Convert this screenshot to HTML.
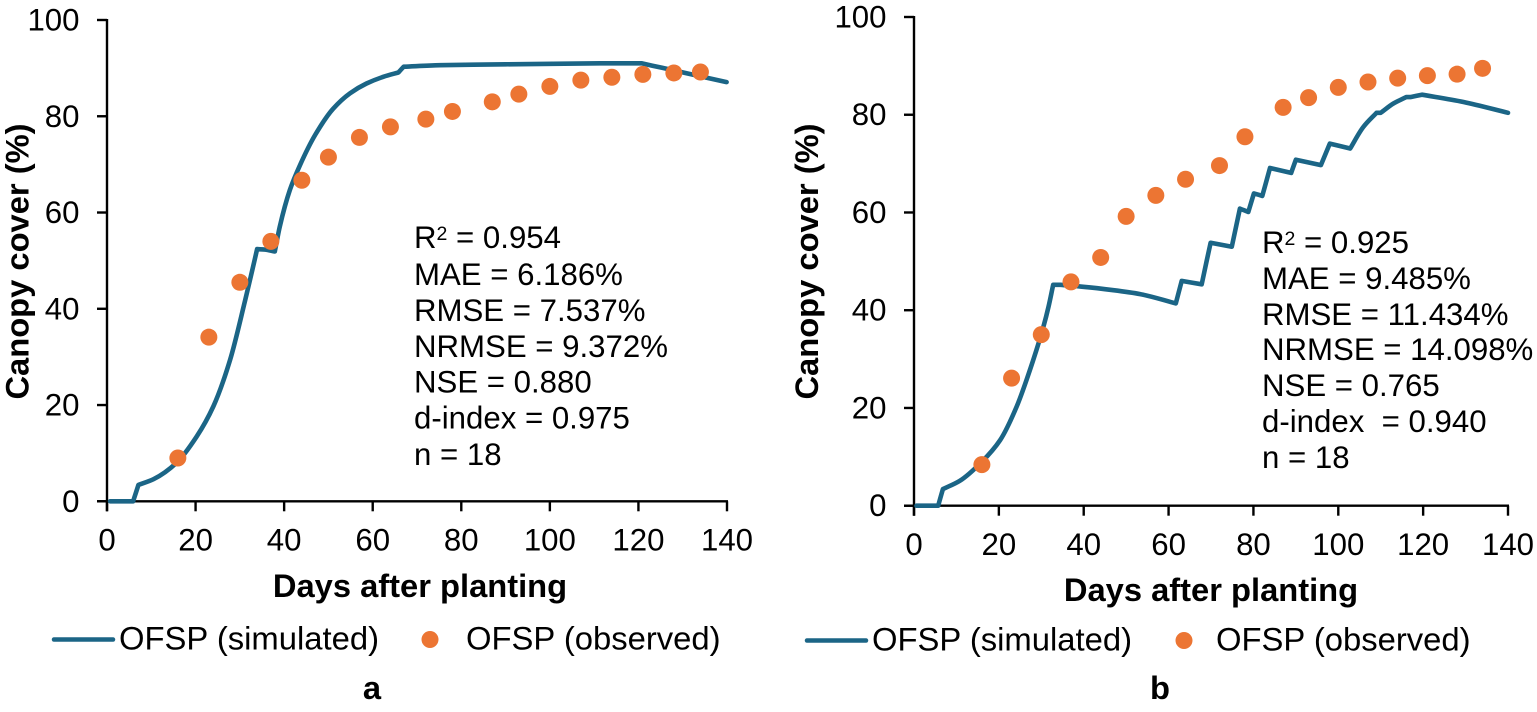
<!DOCTYPE html>
<html lang="en">
<head>
<meta charset="utf-8">
<title>Canopy cover charts</title>
<style>
html,body{margin:0;padding:0;background:#fff;width:1537px;height:712px;overflow:hidden}
svg{display:block}
text{font-family:"Liberation Sans",Arial,sans-serif;fill:#000}
.tick{font-size:31.2px}
.stat{font-size:31.2px}
.leg{font-size:32.8px}
.title{font-size:32.7px;font-weight:bold}
.sup{font-size:19.5px}
</style>
</head>
<body>
<svg id="figure" width="1537" height="712" viewBox="0 0 1537 712" xmlns="http://www.w3.org/2000/svg">
  <g id="panel-a"></g>
  <g id="panel-b"></g>

  <text class="title" x="420" y="597" text-anchor="middle">Days after planting</text>
  <text class="title" transform="translate(28.5,261.5) rotate(-90)" text-anchor="middle">Canopy cover (%)</text>
  <text class="title" x="1211" y="601" text-anchor="middle">Days after planting</text>
  <text class="title" transform="translate(818,261.5) rotate(-90)" text-anchor="middle">Canopy cover (%)</text>

  <g>
    <text class="stat" x="414" y="248">R<tspan class="sup" dy="-8">2</tspan><tspan dy="8"> = 0.954</tspan></text>
    <text class="stat" x="414" y="285">MAE = 6.186%</text>
    <text class="stat" x="414" y="321">RMSE = 7.537%</text>
    <text class="stat" x="414" y="357">NRMSE = 9.372%</text>
    <text class="stat" x="414" y="392.5">NSE = 0.880</text>
    <text class="stat" x="414" y="428.5">d-index = 0.975</text>
    <text class="stat" x="414" y="465">n = 18</text>
  </g>
  <g>
    <text class="stat" x="1262" y="253">R<tspan class="sup" dy="-8">2</tspan><tspan dy="8"> = 0.925</tspan></text>
    <text class="stat" x="1262" y="289">MAE = 9.485%</text>
    <text class="stat" x="1262" y="325">RMSE = 11.434%</text>
    <text class="stat" x="1262" y="360">NRMSE = 14.098%</text>
    <text class="stat" x="1262" y="396">NSE = 0.765</text>
    <text class="stat" x="1262" y="432">d-index&#160; = 0.940</text>
    <text class="stat" x="1262" y="468">n = 18</text>
  </g>

  <g>
    <line x1="54" x2="113" y1="639.5" y2="639.5" stroke="#1b6586" stroke-width="4.5" stroke-linecap="round"/>
    <text class="leg" x="119" y="649.5">OFSP (simulated)</text>
    <circle cx="430" cy="639.5" r="8.5" fill="#ec7533"/>
    <text class="leg" x="466" y="649.5">OFSP (observed)</text>
  </g>
  <g>
    <line x1="807" x2="866" y1="640.5" y2="640.5" stroke="#1b6586" stroke-width="4.5" stroke-linecap="round"/>
    <text class="leg" x="872" y="650.5">OFSP (simulated)</text>
    <circle cx="1184" cy="640.5" r="8.5" fill="#ec7533"/>
    <text class="leg" x="1216" y="650.5">OFSP (observed)</text>
  </g>

  <text class="title" x="372" y="699" text-anchor="middle">a</text>
  <text class="title" x="1160" y="699" text-anchor="middle">b</text>
</svg>
<script>
const xTicks = [0, 20, 40, 60, 80, 100, 120, 140];
const yTicks = [0, 20, 40, 60, 80, 100];

const obsDays = [16, 23, 30, 37, 44, 50, 57, 64, 72, 78, 87, 93, 100, 107, 114, 121, 128, 134];
const obsA = [9, 34.1, 45.5, 54, 66.7, 71.5, 75.6, 77.8, 79.4, 81, 83, 84.6, 86.2, 87.5, 88.1, 88.7, 89, 89.2];
const obsB = [8.4, 26.1, 35, 45.8, 50.8, 59.2, 63.5, 66.8, 69.6, 75.5, 81.5, 83.5, 85.6, 86.7, 87.5, 88, 88.3, 89.5];

const simDaysA = [0.7, 5.9, 7.1, 10.5, 15.7, 20.2, 24, 27.8, 31.2, 32.3, 33.9, 35.7, 37.9, 39, 41.3, 43.6, 47, 51.1, 54.9, 58.6, 62.4, 65.8, 67, 75.2, 90, 111.3, 120.7, 125.2, 132.5, 139.9];
const simA = [0, 0, 3.4, 4.6, 8, 13.4, 19.7, 29.4, 41.8, 46, 52.4, 52.3, 51.9, 57, 64.7, 69.9, 76.1, 81.6, 84.8, 86.8, 88.2, 89.1, 90.3, 90.6, 90.8, 91, 91, 90.1, 88.6, 87.1];

const simDaysB = [0.6, 5.7, 6.8, 10.8, 16, 20.3, 24.2, 28.1, 30.5, 31.7, 32.8, 34.5, 39.9, 47, 53.3, 61.7, 63.1, 67.8, 69.9, 74.9, 76.8, 78.8, 80.1, 82.1, 83.9, 88.9, 90, 95.9, 98, 102.8, 105.9, 109, 110, 113, 116, 117, 119.7, 129.5, 140];
const simB = [0, 0, 3.4, 5.1, 9, 13.4, 20.3, 29.8, 36.6, 40.7, 45.2, 45.2, 44.8, 44.1, 43.3, 41.4, 46, 45.3, 53.8, 53, 60.8, 60.1, 63.9, 63.4, 69.1, 68.1, 70.8, 69.7, 74.1, 73.1, 77.5, 80.4, 80.4, 82.3, 83.6, 83.6, 84.1, 82.6, 80.4];

const SVG_NS = 'http://www.w3.org/2000/svg';

// Smooth cubic path; abrupt slope changes are kept as sharp corners.
function cornerAwarePath(xs, ys) {
  const n = xs.length;
  const slopes = [];
  for (let i = 0; i < n - 1; i++) {
    slopes.push((ys[i + 1] - ys[i]) / (xs[i + 1] - xs[i]));
  }
  const inTan = [slopes[0]];
  const outTan = [slopes[0]];
  for (let i = 1; i < n - 1; i++) {
    const a = slopes[i - 1];
    const b = slopes[i];
    const ratio = Math.max(Math.abs(a), Math.abs(b)) / Math.max(1e-6, Math.min(Math.abs(a), Math.abs(b)));
    if (a * b <= 0 || ratio > 3.5) {
      inTan.push(a);
      outTan.push(b);
    } else {
      const ha = xs[i] - xs[i - 1];
      const hb = xs[i + 1] - xs[i];
      const t = 3 * (ha + hb) / ((2 * hb + ha) / a + (hb + 2 * ha) / b);
      inTan.push(t);
      outTan.push(t);
    }
  }
  inTan.push(slopes[n - 2]);
  outTan.push(slopes[n - 2]);
  let d = 'M' + xs[0].toFixed(1) + ',' + ys[0].toFixed(1);
  for (let i = 0; i < n - 1; i++) {
    const h = (xs[i + 1] - xs[i]) / 3;
    d += 'C' + (xs[i] + h).toFixed(1) + ',' + (ys[i] + outTan[i] * h).toFixed(1) + ' ' +
      (xs[i + 1] - h).toFixed(1) + ',' + (ys[i + 1] - inTan[i + 1] * h).toFixed(1) + ' ' +
      xs[i + 1].toFixed(1) + ',' + ys[i + 1].toFixed(1);
  }
  return d;
}

function drawPanel(group, suffix, box, simDays, simVals, obsVals) {
  const xPos = function (d) { return box.x0 + (d / 140) * (box.x140 - box.x0); };
  const yPos = function (v) { return box.y0 + (v / 100) * (box.y100 - box.y0); };

  const axes = document.createElementNS(SVG_NS, 'g');
  
  
  axes.setAttribute('stroke', '#000');
  axes.setAttribute('stroke-width', '2.4');
  group.appendChild(axes);

  const yAxis = document.createElementNS(SVG_NS, 'line');
  
  
  yAxis.setAttribute('x1', box.x0);
  yAxis.setAttribute('x2', box.x0);
  yAxis.setAttribute('y1', yPos(100) - 1);
  yAxis.setAttribute('y2', yPos(0) + 10);
  axes.appendChild(yAxis);

  const xAxis = document.createElementNS(SVG_NS, 'line');
  
  
  xAxis.setAttribute('x1', box.x0 - 10);
  xAxis.setAttribute('x2', xPos(140) + 1);
  xAxis.setAttribute('y1', yPos(0));
  xAxis.setAttribute('y2', yPos(0));
  axes.appendChild(xAxis);

  yTicks.forEach(function (t) {
    const mark = document.createElementNS(SVG_NS, 'line');
    
    
    mark.setAttribute('x1', box.x0 - 10);
    mark.setAttribute('x2', box.x0);
    mark.setAttribute('y1', yPos(t));
    mark.setAttribute('y2', yPos(t));
    axes.appendChild(mark);

    const label = document.createElementNS(SVG_NS, 'text');
    
    
    label.setAttribute('class', 'tick');
    label.setAttribute('x', box.x0 - 27.5);
    label.setAttribute('y', yPos(t) + 10.5);
    label.setAttribute('text-anchor', 'end');
    label.textContent = t;
    group.appendChild(label);
  });

  xTicks.forEach(function (t) {
    const mark = document.createElementNS(SVG_NS, 'line');
    
    
    mark.setAttribute('x1', xPos(t));
    mark.setAttribute('x2', xPos(t));
    mark.setAttribute('y1', yPos(0));
    mark.setAttribute('y2', yPos(0) + 10);
    axes.appendChild(mark);

    const label = document.createElementNS(SVG_NS, 'text');
    
    
    label.setAttribute('class', 'tick');
    label.setAttribute('x', xPos(t));
    label.setAttribute('y', yPos(0) + 49.4);
    label.setAttribute('text-anchor', 'middle');
    label.textContent = t;
    group.appendChild(label);
  });

  const line = document.createElementNS(SVG_NS, 'path');
  
  
  line.setAttribute('fill', 'none');
  line.setAttribute('stroke', '#1b6586');
  line.setAttribute('stroke-width', '4.6');
  line.setAttribute('stroke-linejoin', 'round');
  line.setAttribute('stroke-linecap', 'round');
  line.setAttribute('d', cornerAwarePath(simDays.map(xPos), simVals.map(yPos)));
  group.appendChild(line);

  obsDays.forEach(function (d, i) {
    const dot = document.createElementNS(SVG_NS, 'circle');
    
    
    dot.setAttribute('cx', xPos(d));
    dot.setAttribute('cy', yPos(obsVals[i]));
    dot.setAttribute('r', '8.5');
    dot.setAttribute('fill', '#ec7533');
    group.appendChild(dot);
  });
}

drawPanel(document.getElementById('panel-a'), 'a', {x0: 107, x140: 727, y0: 501.3, y100: 20}, simDaysA, simA, obsA);
drawPanel(document.getElementById('panel-b'), 'b', {x0: 914, x140: 1508, y0: 505.7, y100: 17}, simDaysB, simB, obsB);
</script>
</body>
</html>
